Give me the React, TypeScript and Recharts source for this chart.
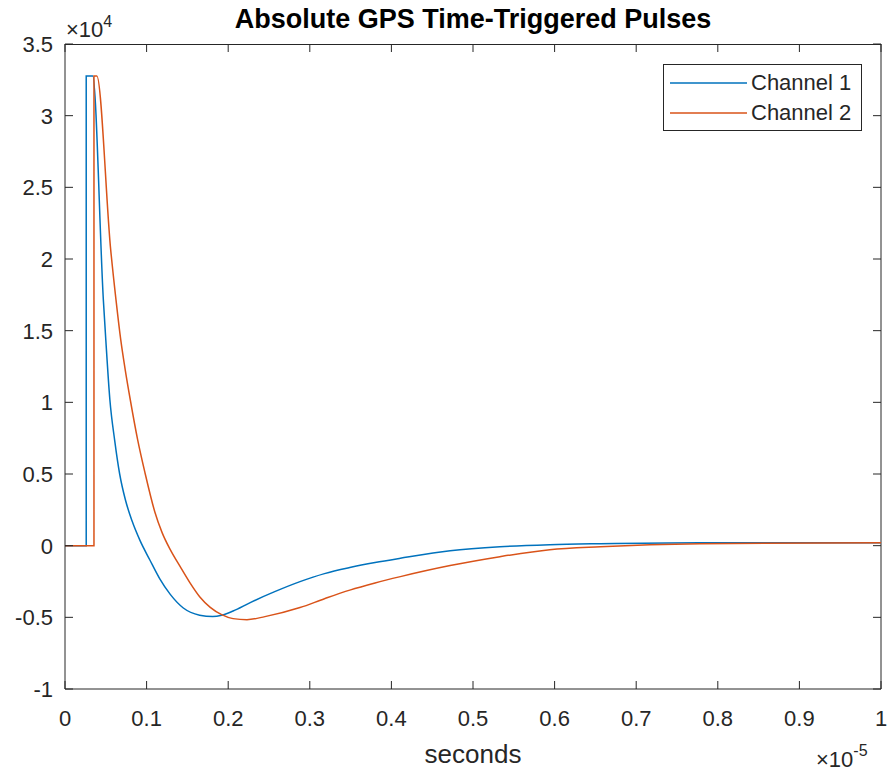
import { LineChart, Line, XAxis, YAxis, ReferenceLine } from 'recharts';

// time in microseconds (axis shows x 1e-5 s), amplitude in raw counts (axis shows x 1e4)
const ch1Time = [0, 0.26, 0.26, 0.34, 0.47, 0.5, 0.55, 0.61, 0.67, 0.74, 0.82, 0.92, 1.04, 1.16, 1.29, 1.45, 1.65, 1.81, 1.92, 2.06, 2.27, 2.57, 2.88, 3.18, 3.49, 3.8, 4.11, 4.72, 5.33, 5.94, 6.56, 7.78, 10];
const ch1Amp = [0, 0, 32767, 32767, 17150, 14370, 10180, 7300, 5000, 3200, 1750, 350, -1000, -2300, -3400, -4350, -4850, -4950, -4860, -4560, -3970, -3210, -2510, -1950, -1530, -1180, -880, -350, -70, 70, 140, 210, 210];

const ch2Time = [0, 0.355, 0.355, 0.39, 0.56, 0.625, 0.683, 0.74, 0.8, 0.89, 0.98, 1.1, 1.19, 1.29, 1.41, 1.53, 1.65, 1.78, 1.92, 2.06, 2.23, 2.45, 2.88, 3.18, 3.49, 3.8, 4.11, 4.72, 5.33, 5.94, 6.56, 7.78, 10];
const ch2Amp = [0, 0, 32767, 32767, 20640, 17150, 14370, 12200, 10180, 7400, 5090, 2370, 910, -280, -1450, -2580, -3560, -4300, -4810, -5090, -5160, -4950, -4320, -3700, -3100, -2600, -2160, -1390, -770, -280, -70, 140, 210];

const xTicks = [0, 1, 2, 3, 4, 5, 6, 7, 8, 9, 10];
const yTicks = [-10000, -5000, 0, 5000, 10000, 15000, 20000, 25000, 30000, 35000];

const seriesNames = ['Channel 1', 'Channel 2'];
const seriesColors = ['#0072BD', '#D95319'];

const W = 891;
const H = 775;
const LEFT = 65;
const RIGHT = 881;
const TOP = 44;
const BOTTOM = 689;
const INK = '#262626';
const FONT = '"Liberation Sans", Arial, Helvetica, sans-serif';

const ch1 = ch1Time.map((t, i) => ({ t, v: ch1Amp[i] }));
const ch2 = ch2Time.map((t, i) => ({ t, v: ch2Amp[i] }));

function fmtX(v: number) {
  return String(Math.round(v) / 10);
}
function fmtY(v: number) {
  return String(v / 10000);
}

function XTick(props: any) {
  const { x, payload } = props;
  return (
    <g>
      <line x1={x} x2={x} y1={BOTTOM} y2={BOTTOM - 8} stroke={INK} />
      <line x1={x} x2={x} y1={TOP} y2={TOP + 8} stroke={INK} />
      <text x={x} y={726} textAnchor="middle" fontSize={22} fill={INK} fontFamily={FONT}>
        {fmtX(payload.value)}
      </text>
    </g>
  );
}

function YTick(props: any) {
  const { y, payload } = props;
  return (
    <g>
      <line x1={LEFT} x2={LEFT + 8} y1={y} y2={y} stroke={INK} />
      <line x1={RIGHT} x2={RIGHT - 8} y1={y} y2={y} stroke={INK} />
      <text x={53} y={y + 8} textAnchor="end" fontSize={22} fill={INK} fontFamily={FONT}>
        {fmtY(payload.value)}
      </text>
    </g>
  );
}

function LegendBox() {
  return (
    <div
      style={{
        position: 'absolute',
        left: 663,
        top: 64,
        width: 197,
        height: 65,
        border: `1px solid ${INK}`,
        background: '#fff',
        fontFamily: FONT,
        fontSize: 22,
        color: INK,
      }}
    >
      {seriesNames.map((name, i) => (
        <div key={name} style={{ display: 'flex', alignItems: 'center', height: 30, marginTop: i === 0 ? 3 : 0 }}>
          <svg width={87} height={30} style={{ display: 'block' }}>
            <line x1={6} x2={83} y1={15} y2={15} stroke={seriesColors[i]} strokeWidth={1.5} />
          </svg>
          <span style={{ lineHeight: '30px' }}>{name}</span>
        </div>
      ))}
    </div>
  );
}

export default function App() {
  return (
    <div style={{ position: 'absolute', left: 0, top: 0, width: W, height: H, background: '#fff' }}>
      <LineChart width={W} height={H} margin={{ top: TOP, right: W - RIGHT, bottom: 0, left: 0 }}>
        <XAxis
          type="number"
          dataKey="t"
          domain={[0, 10]}
          ticks={xTicks}
          height={H - BOTTOM}
          axisLine={{ stroke: INK }}
          tickLine={false}
          tick={<XTick />}
          allowDataOverflow
        />
        <YAxis
          type="number"
          dataKey="v"
          domain={[-10000, 35000]}
          ticks={yTicks}
          width={LEFT}
          axisLine={{ stroke: INK }}
          tickLine={false}
          tick={<YTick />}
          allowDataOverflow
        />
        <ReferenceLine x={10} stroke={INK} />
        <Line
          data={ch1}
          dataKey="v"
          name={seriesNames[0]}
          type="monotoneX"
          stroke={seriesColors[0]}
          strokeWidth={1.5}
          dot={false}
          isAnimationActive={false}
        />
        <Line
          data={ch2}
          dataKey="v"
          name={seriesNames[1]}
          type="monotoneX"
          stroke={seriesColors[1]}
          strokeWidth={1.5}
          dot={false}
          isAnimationActive={false}
        />
      </LineChart>
      <LegendBox />
      <svg
        width={W}
        height={H}
        style={{ position: 'absolute', left: 0, top: 0, pointerEvents: 'none' }}
        fontFamily={FONT}
      >
        <line x1={LEFT} x2={RIGHT} y1={TOP + 0.5} y2={TOP + 0.5} stroke={INK} />
        <text x={(LEFT + RIGHT) / 2} y={28} textAnchor="middle" fontSize={27} fontWeight="bold" fill="#000">
          Absolute GPS Time-Triggered Pulses
        </text>
        <text x={66} y={37} fontSize={22} fill={INK}>
          ×10<tspan dy={-10} fontSize={16}>4</tspan>
        </text>
        <text x={(LEFT + RIGHT) / 2} y={763} textAnchor="middle" fontSize={26} fill={INK}>
          seconds
        </text>
        <text x={816} y={767} fontSize={22} fill={INK}>
          ×10<tspan dy={-11} fontSize={16}>-5</tspan>
        </text>
      </svg>
    </div>
  );
}
